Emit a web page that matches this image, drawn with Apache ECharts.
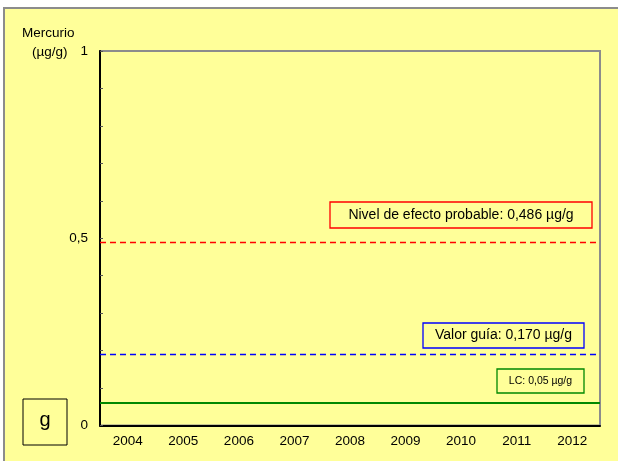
<!DOCTYPE html>
<html>
<head>
<meta charset="utf-8">
<script src="https://cdn.jsdelivr.net/npm/echarts@6/dist/echarts.min.js"></script>
<style>
  html, body { margin: 0; padding: 0; background: #fff; }
  #main { width: 618px; height: 461px; }
</style>
</head>
<body>
<div id="main"></div>
<script>
// data
const years = ['2004', '2005', '2006', '2007', '2008', '2009', '2010', '2011', '2012'];
const refNames = ['Nivel de efecto probable', 'Valor guía', 'LC'];
const refValues = [0.486, 0.186, 0.063];   // drawn heights
const refLabels = ['Nivel de efecto probable: 0,486 µg/g', 'Valor guía: 0,170 µg/g', 'LC: 0,05 µg/g'];
const refColors = ['#ff0000', '#0000ff', '#008800'];
const refTypes = [[6, 4], [6, 4], 'solid'];

const font = 'Liberation Sans, Arial, sans-serif';
const chart = echarts.init(document.getElementById('main'));

// one empty series per reference line, drawn with markLine
const series = refNames.map((name, i) => ({
    name: name,
    type: 'line',
    data: [],
    silent: true,
    markLine: {
        silent: true,
        symbol: 'none',
        label: { show: false },
        lineStyle: { color: refColors[i], type: refTypes[i], width: i === 2 ? 1.8 : 1.3, opacity: 1 },
        data: [{ yAxis: refValues[i] }]
    }
}));

// label boxes (x, y, w, h, font size)
const boxes = [
    [330, 202, 262, 26, 14],
    [423, 323, 161, 25, 14],
    [497, 369, 87, 24, 10.5]
];

const graphic = [
    {
        type: 'rect', z: -10, silent: true,
        shape: { x: 4, y: 8, width: 640, height: 480 },
        style: { fill: '#ffff99', stroke: '#8c8c8c', lineWidth: 2 }
    },
    {
        type: 'text', left: 22, top: 26,
        style: { text: 'Mercurio', font: '13.5px ' + font, fill: '#000' }
    },
    {
        type: 'text', left: 32, top: 45,
        style: { text: '(µg/g)', font: '13.5px ' + font, fill: '#000' }
    },
    {
        type: 'rect',
        shape: { x: 23, y: 399, width: 44, height: 46 },
        style: { fill: 'none', stroke: '#000', lineWidth: 1 }
    },
    {
        type: 'text', x: 45, y: 420,
        style: { text: 'g', font: '20px ' + font, fill: '#000', align: 'center', verticalAlign: 'middle' }
    }
];
boxes.forEach((b, i) => {
    graphic.push({
        type: 'rect',
        shape: { x: b[0], y: b[1], width: b[2], height: b[3] },
        style: { fill: 'none', stroke: refColors[i], lineWidth: 1.3 }
    });
    graphic.push({
        type: 'text', x: b[0] + b[2] / 2, y: b[1] + b[3] / 2,
        style: {
            text: refLabels[i], font: b[4] + 'px ' + font, fill: '#000',
            align: 'center', verticalAlign: 'middle'
        }
    });
});

const option = {
    animation: false,
    backgroundColor: '#ffffff',
    textStyle: { fontFamily: font },
    grid: {
        left: 100, top: 51, width: 500, height: 374.5,
        show: true, borderColor: '#8c8c8c', borderWidth: 2, backgroundColor: 'transparent'
    },
    xAxis: {
        type: 'category',
        data: years,
        boundaryGap: true,
        axisLine: { lineStyle: { color: '#000', width: 2 } },
        axisTick: { show: false },
        axisLabel: { color: '#000', fontSize: 13.5, margin: 9, fontFamily: font }
    },
    yAxis: {
        type: 'value',
        min: 0, max: 1, interval: 0.1,
        axisLine: { show: true, lineStyle: { color: '#000', width: 2 } },
        axisTick: { show: true, inside: true, length: 3, lineStyle: { color: '#555' } },
        splitLine: { show: false },
        axisLabel: {
            color: '#000', fontSize: 13.5, margin: 12, fontFamily: font,
            formatter: function (v) {
                const r = Math.round(v * 10);
                if (r === 0) return '0';
                if (r === 5) return '0,5';
                if (r === 10) return '1';
                return '';
            }
        }
    },
    graphic: graphic,
    series: series
};

chart.setOption(option);
</script>
</body>
</html>
